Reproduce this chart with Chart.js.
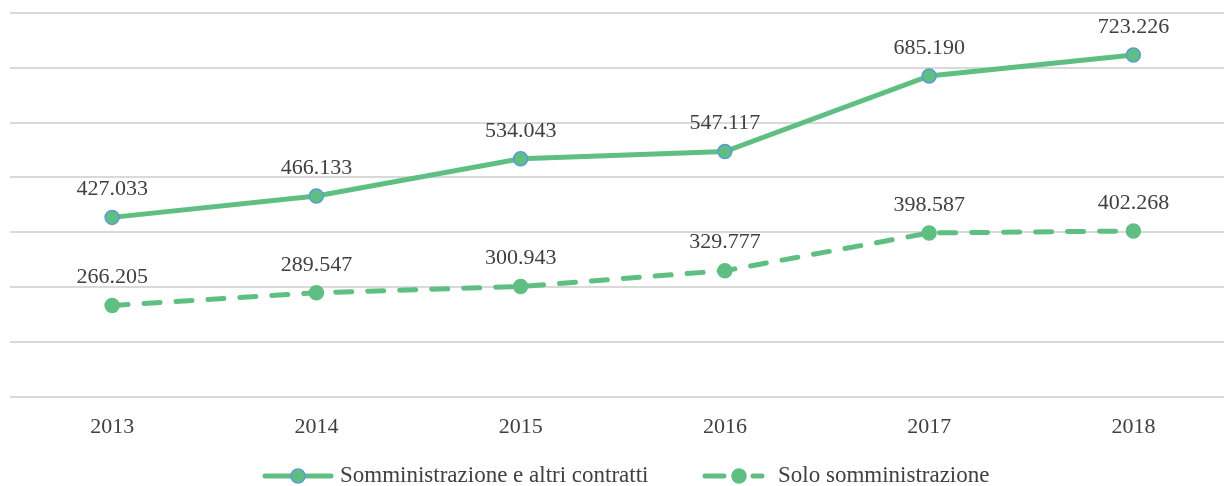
<!DOCTYPE html>
<html>
<head>
<meta charset="utf-8">
<script src="https://cdn.jsdelivr.net/npm/chart.js@4/dist/chart.umd.min.js"></script>
<style>
  html, body { margin: 0; padding: 0; background: #fff; overflow: hidden; }
  #wrap { width: 1244px; height: 486px; }
</style>
</head>
<body>
<div id="wrap"><canvas id="chart"></canvas></div>
<script>
const years = ['2013', '2014', '2015', '2016', '2017', '2018'];
const allContracts = [427033, 466133, 534043, 547117, 685190, 723226];
const onlySupply = [266205, 289547, 300943, 329777, 398587, 402268];
const seriesNames = ['Somministrazione e altri contratti', 'Solo somministrazione'];

const green = '#5fbf83';
const blue = '#5b9bd5';
const textColor = '#404040';
const fontFamily = '"Liberation Serif", "Times New Roman", serif';

// thousands with a dot, Italian style
const fmt = v => (v / 1000).toFixed(3);

// value labels above every point
const valueLabels = {
  id: 'valueLabels',
  afterDatasetsDraw(chart) {
    const ctx = chart.ctx;
    ctx.save();
    ctx.font = '22px ' + fontFamily;
    ctx.fillStyle = textColor;
    ctx.textAlign = 'center';
    ctx.textBaseline = 'middle';
    chart.data.datasets.forEach((ds, i) => {
      chart.getDatasetMeta(i).data.forEach((pt, j) => {
        ctx.fillText(fmt(ds.data[j]), pt.x, pt.y - 28);
      });
    });
    ctx.restore();
  }
};

// legend with line + marker, like the original
const legendSpots = [{ x: 263, w: 70, text: 340 }, { x: 703, w: 61, text: 778 }];
const lineLegend = {
  id: 'lineLegend',
  afterDraw(chart) {
    const ctx = chart.ctx;
    const y = 476;
    ctx.save();
    ctx.font = '23px ' + fontFamily;
    ctx.textBaseline = 'middle';
    chart.data.datasets.forEach((ds, i) => {
      const s = legendSpots[i];
      ctx.strokeStyle = ds.borderColor;
      ctx.lineWidth = 5;
      ctx.lineCap = 'round';
      ctx.beginPath();
      if (ds.borderDash) {
        ctx.moveTo(s.x + 2, y); ctx.lineTo(s.x + 21, y);
        ctx.moveTo(s.x + s.w - 11, y); ctx.lineTo(s.x + s.w - 2, y);
      } else {
        ctx.moveTo(s.x + 2, y); ctx.lineTo(s.x + s.w - 2, y);
      }
      ctx.stroke();
      const cx = ds.borderDash ? s.x + 36 : s.x + s.w / 2;
      ctx.beginPath();
      ctx.arc(cx, y, 7, 0, Math.PI * 2);
      ctx.fillStyle = ds.pointBackgroundColor;
      ctx.fill();
      ctx.lineWidth = 1.5;
      ctx.strokeStyle = ds.pointBorderColor;
      ctx.stroke();
      ctx.fillStyle = textColor;
      ctx.fillText(seriesNames[i], s.text, y);
    });
    ctx.restore();
  }
};

new Chart(document.getElementById('chart'), {
  type: 'line',
  data: {
    labels: years,
    datasets: [
      {
        label: seriesNames[0],
        data: allContracts,
        borderColor: green,
        borderWidth: 5,
        pointRadius: 7,
        pointBackgroundColor: green,
        pointBorderColor: blue,
        pointBorderWidth: 1.5,
        tension: 0
      },
      {
        label: seriesNames[1],
        data: onlySupply,
        borderColor: green,
        borderWidth: 5,
        borderDash: [16, 16],
        borderCapStyle: 'round',
        pointRadius: 7,
        pointBackgroundColor: green,
        pointBorderColor: green,
        pointBorderWidth: 1.5,
        tension: 0
      }
    ]
  },
  options: {
    responsive: true,
    maintainAspectRatio: false,
    animation: false,
    layout: { padding: { top: 13, left: 10, right: 0, bottom: 37 } },
    plugins: { legend: { display: false }, tooltip: { enabled: false } },
    scales: {
      x: {
        offset: true,
        grid: { display: false },
        border: { display: false },
        ticks: { color: textColor, font: { family: fontFamily, size: 22 }, padding: 9 }
      },
      y: {
        min: 100000,
        max: 800000,
        ticks: { display: false, stepSize: 100000 },
        grid: { color: '#d9d9d9', lineWidth: 2, drawTicks: false },
        border: { display: false }
      }
    }
  },
  plugins: [valueLabels, lineLegend]
});
</script>
</body>
</html>
